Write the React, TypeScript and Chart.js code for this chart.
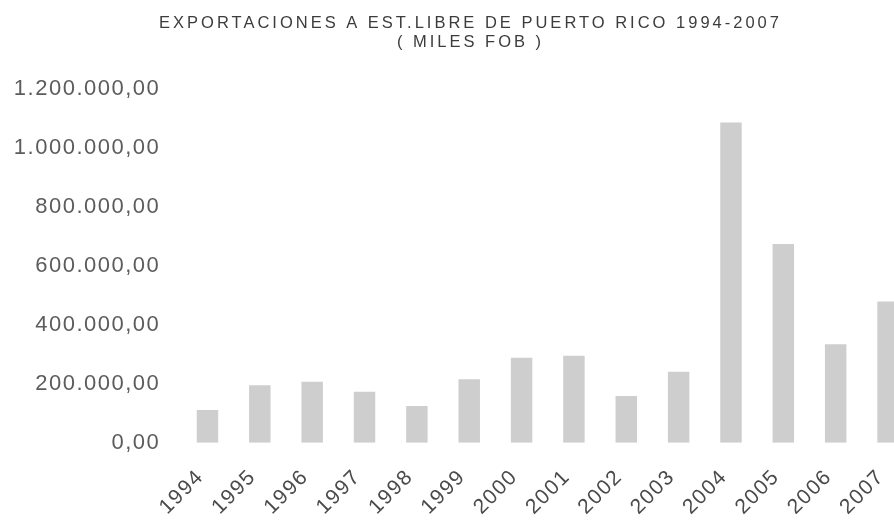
import React, { useEffect, useRef } from "react";
import { Chart, registerables } from "chart.js";

Chart.register(...registerables);

const titleLines = [
  "EXPORTACIONES A EST.LIBRE DE PUERTO RICO 1994-2007",
  "( MILES FOB )",
];

const years = [
  "1994", "1995", "1996", "1997", "1998", "1999", "2000",
  "2001", "2002", "2003", "2004", "2005", "2006", "2007",
];

const exportsMilesFob = [
  110800, 194600, 206800, 172900, 124400, 214900, 288100,
  294900, 158300, 240700, 1084700, 673600, 333600, 478000,
];

const yMin = 0;
const yMax = 1200000;
const yStep = 200000;

function formatEs(v: number): string {
  const neg = v < 0;
  const n = Math.abs(v);
  const intPart = Math.floor(n).toString();
  const dec = Math.round((n - Math.floor(n)) * 100)
    .toString()
    .padStart(2, "0");
  const grouped = intPart.replace(/\B(?=(\d{3})+(?!\d))/g, ".");
  return (neg ? "-" : "") + grouped + "," + dec;
}

const spacingPlugin = {
  id: "spacingPlugin",
  beforeDraw(chart: any) {
    const ctx = chart.ctx as any;
    ctx.letterSpacing = "1.5px";
  },
  afterDraw(chart: any) {
    const ctx = chart.ctx as any;
    ctx.save();
    ctx.letterSpacing = "3px";
    ctx.fillStyle = "#3c3c3c";
    ctx.font = "16.5px 'Liberation Sans', Arial, sans-serif";
    ctx.textAlign = "center";
    ctx.textBaseline = "middle";
    ctx.fillText(titleLines[0], 470.5, 23);
    ctx.fillText(titleLines[1], 470.5, 42);
    ctx.restore();
    ctx.letterSpacing = "0px";
  },
};

export default function App() {
  const canvasRef = useRef<HTMLCanvasElement | null>(null);

  useEffect(() => {
    const canvas = canvasRef.current;
    if (!canvas) return;
    const chart = new Chart(canvas, {
      type: "bar",
      data: {
        labels: years,
        datasets: [
          {
            data: exportsMilesFob,
            backgroundColor: "#cecece",
            borderWidth: 0,
            categoryPercentage: 1,
            barPercentage: 0.41,
          },
        ],
      },
      options: {
        responsive: false,
        animation: false,
        events: [],
        layout: { padding: { top: 88.5, right: 25.8, left: 0, bottom: 0 } },
        plugins: {
          legend: { display: false },
          title: { display: false },
          tooltip: { enabled: false },
        },
        scales: {
          x: {
            grid: { display: false, drawTicks: false },
            border: { display: false },
            ticks: {
              color: "#4a4a4a",
              font: { family: "'Liberation Sans', Arial, sans-serif", size: 21 },
              minRotation: 45,
              maxRotation: 45,
              autoSkip: false,
              padding: 22,
              labelOffset: -7,
            },
            afterFit(scale: any) {
              scale.height = 80.3;
            },
          },
          y: {
            min: yMin,
            max: yMax,
            grid: { display: false, drawTicks: false },
            border: { display: false },
            ticks: {
              stepSize: yStep,
              color: "#5c5c5c",
              font: { family: "'Liberation Sans', Arial, sans-serif", size: 22 },
              padding: 21,
              callback: (v: any) => formatEs(Number(v)),
            },
            afterFit(scale: any) {
              scale.width = 181.3;
            },
          },
        },
      },
      plugins: [spacingPlugin],
    });
    return () => chart.destroy();
  }, []);

  return (
    <div
      style={{
        position: "fixed",
        left: 0,
        top: 0,
        width: 894,
        height: 523,
        overflow: "hidden",
        background: "#ffffff",
      }}
    >
      <canvas
        ref={canvasRef}
        width={940}
        height={523}
        style={{ display: "block", width: 940, height: 523 }}
      />
    </div>
  );
}
